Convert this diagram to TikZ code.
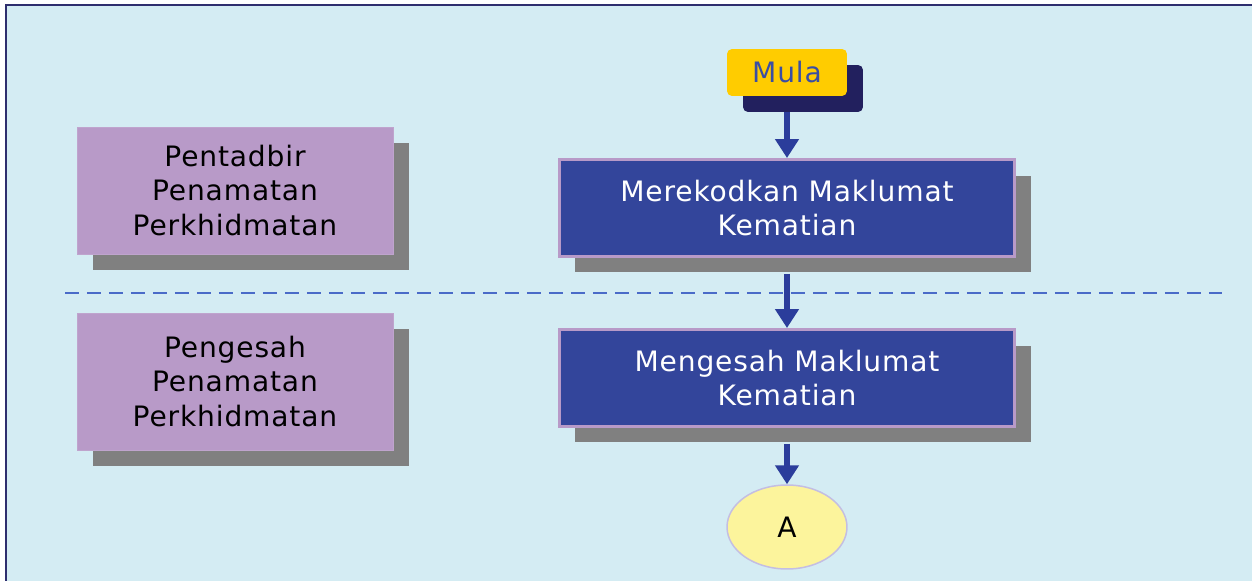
\documentclass[tikz,border=0pt]{standalone}
\usepackage{fontspec}
\setmainfont{DejaVu Sans}[LetterSpace=3]
\usetikzlibrary{arrows.meta,positioning,shapes.geometric,shadows}

\definecolor{bgblue}{HTML}{D4ECF3}
\definecolor{framenavy}{HTML}{2E2E6E}
\definecolor{shadenavy}{HTML}{22205E}
\definecolor{gold}{HTML}{FFCC00}
\definecolor{mulatext}{HTML}{3A4EA4}
\definecolor{boxblue}{HTML}{33459B}
\definecolor{lilac}{HTML}{B89AC8}
\definecolor{arrowblue}{HTML}{2B3D9B}
\definecolor{dashblue}{HTML}{4A6BC8}
\definecolor{ellfill}{HTML}{FCF49C}
\definecolor{elldraw}{HTML}{C4BEE2}
\definecolor{shadegray}{HTML}{808080}

\tikzset{
  txt/.style={font=\fontsize{16}{19.8}\selectfont, align=center},
  boxshadow/.style={drop shadow={shadow xshift=0.32cm, shadow yshift=-0.32cm, fill=#1, opacity=1}},
  rolebox/.style={txt, rectangle, fill=lilac, draw=lilac!90!white, line width=0.5pt,
    minimum width=6.32cm, text=black, boxshadow=shadegray},
  stepbox/.style={txt, rectangle, fill=boxblue, draw=lilac, line width=0.06cm,
    minimum width=9.12cm, minimum height=1.94cm, text=white, boxshadow=shadegray},
  startbox/.style={txt, rectangle, rounded corners=0.1cm, fill=gold,
    minimum width=2.4cm, minimum height=0.94cm, text=mulatext, boxshadow=shadenavy},
  connector/.style={ellipse, txt, fill=ellfill, draw=elldraw, line width=0.03cm,
    minimum width=2.4cm, minimum height=1.68cm, inner sep=0pt, text=black},
  flow/.style={arrowblue, line width=0.12cm, -{Triangle[width=0.46cm,length=0.38cm]}},
  lane/.style={dashblue, line width=0.04cm, dash pattern=on 0.28cm off 0.16cm}
}

\begin{document}
\begin{tikzpicture}[x=0.02cm,y=-0.02cm]
\useasboundingbox (0,0) rectangle (1252,581);

% background and frame
\fill[bgblue] (6,5) rectangle (1252,581);
\draw[framenavy, line width=0.04cm] (6,581) -- (6,5) -- (1252,5);

% lane divider
\coordinate (laneL) at (65,293);
\coordinate (laneR) at (1222,293);
\draw[lane] (laneL) -- (laneR);

% roles
\node[rolebox, minimum height=2.54cm] (admin) at (235,190.5) {Pentadbir\\Penamatan\\Perkhidmatan};
\node[rolebox, minimum height=2.74cm] (approver) at (235,381.5) {Pengesah\\Penamatan\\Perkhidmatan};

% flow
\node[startbox] (mula) at (787,72.5) {Mula};
\node[stepbox] (record) at (787,208) {Merekodkan Maklumat\\Kematian};
\node[stepbox] (approve) at (787,378) {Mengesah Maklumat\\Kematian};
\node[connector] (linkA) at (787,527) {A};

\draw[flow] ([yshift=-0.32cm]mula.south) -- (record.north);
\draw[flow] ([yshift=-0.32cm]record.south) -- (approve.north);
\draw[flow] ([yshift=-0.32cm]approve.south) -- (linkA.north);

\end{tikzpicture}
\end{document}
